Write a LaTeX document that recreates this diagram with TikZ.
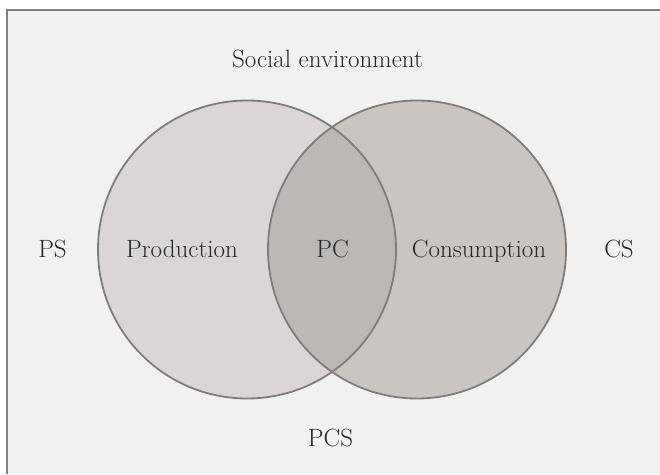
\documentclass[tikz,border=0pt]{standalone}
\usepackage{fontspec}
\usepackage{tikz}

\definecolor{envfill}{RGB}{241,241,241}
\definecolor{framegray}{RGB}{128,128,128}
\definecolor{prodfill}{RGB}{218,214,214}
\definecolor{consfill}{RGB}{201,197,195}
\definecolor{bothfill}{RGB}{188,184,182}
\definecolor{ringgray}{RGB}{125,125,125}

\begin{document}
\begin{tikzpicture}[x=1pt,y=1pt,
    lbl/.style={font=\fontsize{25}{30}\selectfont, text=black!85, inner sep=0pt, anchor=base},
    ring/.style={draw=ringgray, line width=1.8pt}]
                    \useasboundingbox (0,0) rectangle (660,474);
                    \fill[white] (0,0) rectangle (660,474);
                    \fill[envfill] (7,0) rectangle (660,464);
                    \draw[framegray, line width=2pt] (7,0) -- (7,464) -- (660,464);
                    % the two spheres
                    \fill[prodfill] (247,224.5) circle (149pt);
                    \fill[consfill] (417,224.5) circle (149pt);
                    \begin{scope}
                        \clip (247,224.5) circle (149pt);
                        \fill[bothfill] (417,224.5) circle (149pt);
                    \end{scope}
                    \draw[ring] (247,224.5) circle (149pt);
                    \draw[ring] (417,224.5) circle (149pt);
                    % labels
                    \node[lbl] (social) at (327.5,406) {Social environment};
                    \node[lbl] (ps) at (52.5,216) {PS};
                    \node[lbl] (prod) at (182,216) {Production};
                    \node[lbl] (pc) at (332.5,216) {PC};
                    \node[lbl] (cons) at (479,216) {Consumption};
                    \node[lbl] (cs) at (619,216) {CS};
                    \node[lbl] (pcs) at (330.5,28) {PCS};
                \end{tikzpicture}
\end{document}
